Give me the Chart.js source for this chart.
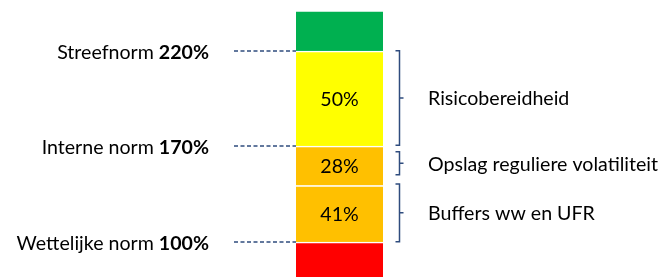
<!DOCTYPE html>
<html>
<head>
<meta charset="utf-8">
<script src="https://cdn.jsdelivr.net/npm/chart.js@4/dist/chart.umd.min.js"></script>
<style>
html, body { margin: 0; padding: 0; background: #fff; }
canvas { display: block; }
</style>
</head>
<body>
<canvas id="chart" width="666" height="277"></canvas>
<script>
// segments, bottom to top (heights as drawn in the picture, not to scale)
const segmentNames = ['Tekort', 'Buffers ww en UFR', 'Opslag reguliere volatiliteit', 'Risicobereidheid', 'Boven streefnorm'];
const segmentHeights = [35, 56.5, 39.5, 95, 39];
const segmentLabels = ['', '41%', '28%', '50%', ''];
const segmentColors = ['#FF0000', '#FFC000', '#FFC000', '#FFFF00', '#00B050'];

// norm lines on the left, placed on top of a segment
const normNames = ['Wettelijke norm', 'Interne norm', 'Streefnorm'];
const normValues = ['100%', '170%', '220%'];
const normSegment = [0, 2, 3];

// braces on the right (in the same units as the segments)
const braceLabels = ['Buffers ww en UFR', 'Opslag reguliere volatiliteit', 'Risicobereidheid'];
const braceRanges = [[35.3, 93], [102.3, 125.3], [131.7, 226.3]];

const FONT = 'Lato';
const SIZE = 19.6;
const NAVY = '#2F4C7E';

// cumulative tops of each segment
const tops = [];
segmentHeights.reduce((acc, h, i) => { tops[i] = acc + h; return acc + h; }, 0);

const annotations = {
  id: 'annotations',
  afterDatasetsDraw(chart) {
    const ctx = chart.ctx;
    const y = chart.scales.y;
    const area = chart.chartArea;
    const midX = (area.left + area.right) / 2;
    ctx.save();
    ctx.textBaseline = 'middle';
    ctx.fillStyle = '#000';

    // percentages inside the bar
    ctx.font = SIZE + 'px ' + FONT;
    ctx.textAlign = 'center';
    segmentLabels.forEach((t, i) => {
      if (!t) return;
      const py = y.getPixelForValue(tops[i] - segmentHeights[i] / 2);
      ctx.fillText(t, midX, py + 1);
    });

    // norm labels + dashed lines
    const textRight = 209;
    normNames.forEach((name, i) => {
      const py = y.getPixelForValue(tops[normSegment[i]]);
      ctx.font = 'bold ' + SIZE + 'px ' + FONT;
      const w2 = ctx.measureText(normValues[i]).width;
      ctx.textAlign = 'left';
      ctx.fillText(normValues[i], textRight - w2, py + 2);
      ctx.font = SIZE + 'px ' + FONT;
      const w1 = ctx.measureText(name + ' ').width;
      ctx.fillText(name + ' ', textRight - w2 - w1, py + 2);

      ctx.strokeStyle = NAVY;
      ctx.lineWidth = 1.5;
      ctx.setLineDash([4, 2.5]);
      ctx.beginPath();
      ctx.moveTo(234, py);
      ctx.lineTo(area.left, py);
      ctx.stroke();
      ctx.setLineDash([]);
    });

    // braces + their labels
    const bx = 399.5;
    braceRanges.forEach((r, i) => {
      const yTop = y.getPixelForValue(r[1]);
      const yBot = y.getPixelForValue(r[0]);
      const yMid = (yTop + yBot) / 2;
      ctx.strokeStyle = NAVY;
      ctx.lineWidth = 1.5;
      ctx.beginPath();
      ctx.moveTo(bx - 4, yTop);
      ctx.lineTo(bx, yTop);
      ctx.lineTo(bx, yBot);
      ctx.lineTo(bx - 4, yBot);
      ctx.moveTo(bx, yMid);
      ctx.lineTo(bx + 4, yMid);
      ctx.stroke();

      ctx.font = SIZE + 'px ' + FONT;
      ctx.textAlign = 'left';
      ctx.fillText(braceLabels[i], 428, yMid + 1);
    });
    ctx.restore();
  }
};

function draw() {
  new Chart(document.getElementById('chart'), {
    type: 'bar',
    data: {
      labels: [''],
      datasets: segmentNames.map((name, i) => ({
        label: name,
        data: [segmentHeights[i]],
        backgroundColor: segmentColors[i],
        borderColor: '#FFFFFF',
        borderWidth: { top: i === segmentNames.length - 1 ? 0 : 1.5, right: 0, bottom: 0, left: 0 },
        borderSkipped: false,
        barPercentage: 1,
        categoryPercentage: 1
      }))
    },
    options: {
      responsive: false,
      animation: false,
      layout: { padding: { left: 296, right: 283, top: 0, bottom: 0 } },
      plugins: { legend: { display: false }, tooltip: { enabled: false } },
      scales: {
        x: { stacked: true, display: false },
        y: { stacked: true, display: false, min: 0, max: 277 }
      }
    },
    plugins: [annotations]
  });
}

Promise.all([
  document.fonts.load(SIZE + 'px ' + FONT),
  document.fonts.load('bold ' + SIZE + 'px ' + FONT)
]).then(draw, draw);
</script>
</body>
</html>
